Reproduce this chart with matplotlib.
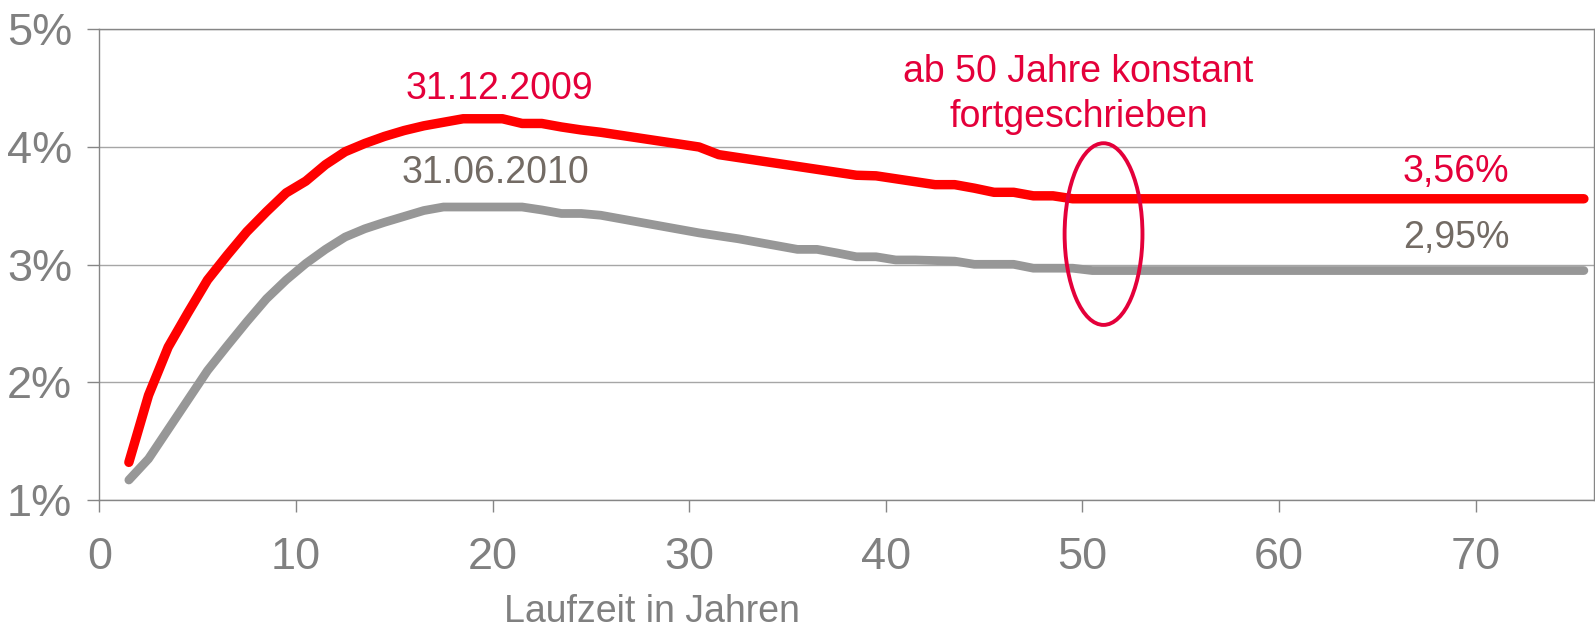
import numpy as np
import matplotlib.pyplot as plt
from matplotlib.patches import Ellipse

plt.rcParams['font.family'] = ['Liberation Sans', 'DejaVu Sans']

# Laufzeit in Jahren (1..75)
laufzeit = np.arange(1, 76)

# Zinsstrukturkurve 31.12.2009 (rot), in %
zins_2009 = [1.32, 1.89, 2.30, 2.59, 2.87, 3.08, 3.28, 3.45, 3.61, 3.71,
             3.85, 3.96, 4.03, 4.09, 4.14, 4.18, 4.21, 4.24, 4.24, 4.24,
             4.20, 4.20, 4.17, 4.145, 4.125, 4.10, 4.075, 4.05, 4.025, 4.00,
             3.935, 3.91, 3.885, 3.86, 3.835, 3.81, 3.785, 3.76, 3.755, 3.73,
             3.705, 3.68, 3.68, 3.65, 3.615, 3.615, 3.585, 3.585, 3.56, 3.56,
             3.56, 3.56, 3.56, 3.56, 3.56, 3.56, 3.56, 3.56, 3.56, 3.56,
             3.56, 3.56, 3.56, 3.56, 3.56, 3.56, 3.56, 3.56, 3.56, 3.56,
             3.56, 3.56, 3.56, 3.56, 3.56]

# Zinsstrukturkurve 31.06.2010 (grau), in %
zins_2010 = [1.17, 1.35, 1.60, 1.85, 2.10, 2.31, 2.515, 2.71, 2.87, 3.01,
             3.13, 3.235, 3.305, 3.36, 3.41, 3.46, 3.49, 3.49, 3.49, 3.49,
             3.49, 3.465, 3.435, 3.435, 3.42, 3.39, 3.36, 3.33, 3.30, 3.27,
             3.245, 3.22, 3.19, 3.16, 3.13, 3.13, 3.10, 3.067, 3.067, 3.04,
             3.04, 3.035, 3.03, 3.003, 3.003, 3.003, 2.97, 2.97, 2.97, 2.95,
             2.95, 2.95, 2.95, 2.95, 2.95, 2.95, 2.95, 2.95, 2.95, 2.95,
             2.95, 2.95, 2.95, 2.95, 2.95, 2.95, 2.95, 2.95, 2.95, 2.95,
             2.95, 2.95, 2.95, 2.95, 2.95]

x_ticks = [0, 10, 20, 30, 40, 50, 60, 70]
y_ticks = [1, 2, 3, 4, 5]
y_labels = ['1%', '2%', '3%', '4%', '5%']

RED = '#FF0000'
GREY = '#979797'
TXT_RED = '#E4003A'
TXT_GREY = '#736B64'
AXIS = '#868686'

fig = plt.figure(figsize=(15.95, 6.28), dpi=100)
ax = fig.add_axes([0.0623, 0.2038, 0.9369, 0.7495])

# points sit in the middle of each year category (Excel style)
x_pos = laufzeit + 0.5
ax.plot(x_pos, zins_2010, color=GREY, lw=6.3, solid_capstyle='round',
        solid_joinstyle='round', zorder=3)
ax.plot(x_pos, zins_2009, color=RED, lw=6.8, solid_capstyle='round',
        solid_joinstyle='round', zorder=4)

ax.set_xlim(0, 76)
ax.set_ylim(1, 5)
ax.set_xticks(x_ticks)
ax.set_yticks(y_ticks)
ax.set_yticklabels(y_labels)
ax.tick_params(axis='both', colors=AXIS, labelcolor='#808080', labelsize=32.5,
               length=8.6, width=1, direction='out')
ax.tick_params(axis='x', pad=18)
ax.tick_params(axis='y', pad=11)
ax.yaxis.grid(True, color='#A6A6A6', lw=1.0)
ax.set_axisbelow(True)
for s in ax.spines.values():
    s.set_color(AXIS)
    s.set_linewidth(1.0)

ax.set_xlabel('Laufzeit in Jahren', fontsize=27, color='#808080', va='baseline')
ax.xaxis.set_label_coords(0.37, -0.2586)

ax.text(20.35, 4.404, '31.12.2009', color=TXT_RED, fontsize=27,
        ha='center', va='baseline')
ax.text(20.15, 3.691, '31.06.2010', color=TXT_GREY, fontsize=27,
        ha='center', va='baseline')
ax.text(49.8, 4.554, 'ab 50 Jahre konstant', color=TXT_RED, fontsize=27,
        ha='center', va='baseline')
ax.text(49.8, 4.172, 'fortgeschrieben', color=TXT_RED, fontsize=27,
        ha='center', va='baseline')
ax.text(69.0, 3.704, '3,56%', color=TXT_RED, fontsize=27,
        ha='center', va='baseline')
ax.text(69.0, 3.138, '2,95%', color=TXT_GREY, fontsize=27,
        ha='center', va='baseline')

ax.add_patch(Ellipse((51.07, 3.26), width=3.96, height=1.544, fill=False,
                     edgecolor=TXT_RED, lw=2.8, zorder=5))

fig.savefig('out.png', dpi=100)
plt.close(fig)
